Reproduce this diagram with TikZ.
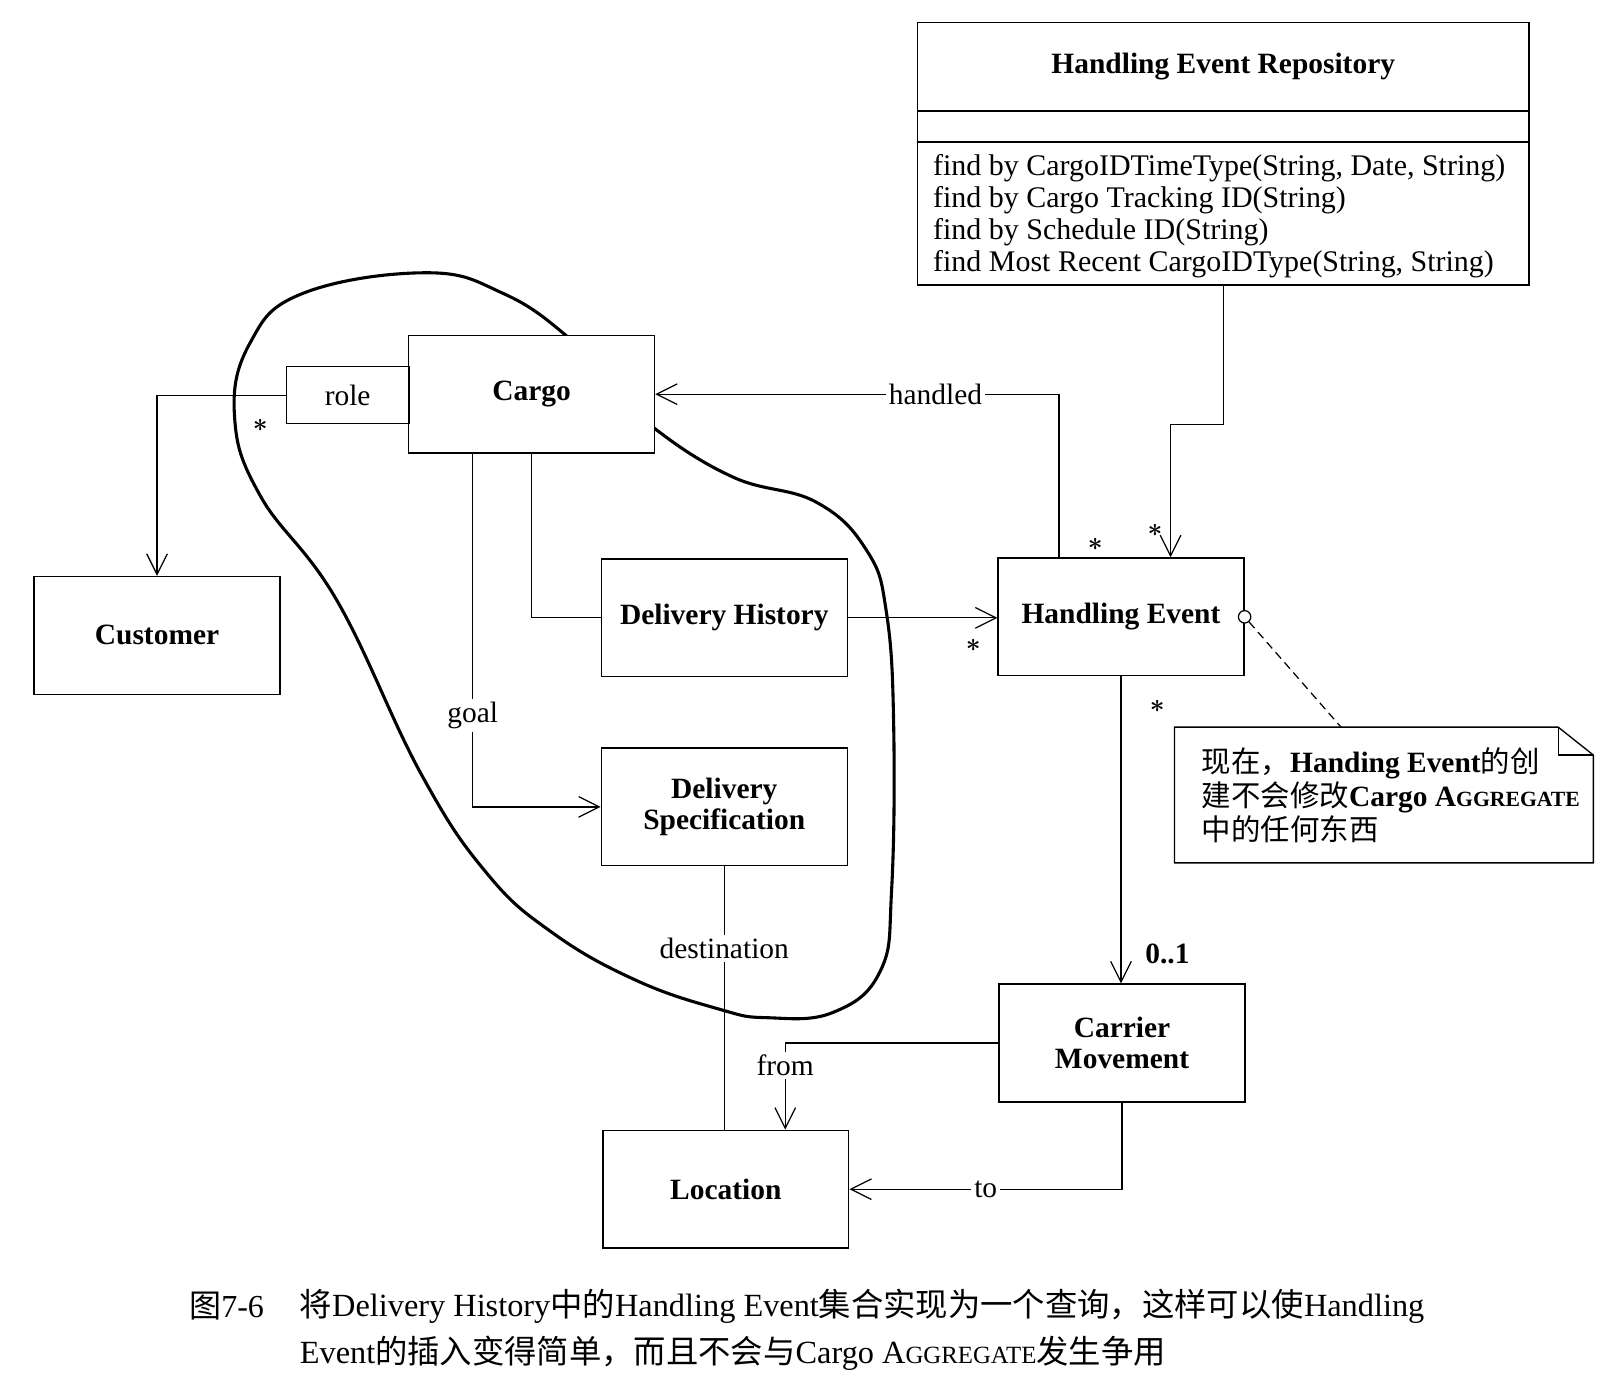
\documentclass[tikz,border=0pt]{standalone}
\usepackage{fontspec}
\setmainfont{Liberation Serif}
\newfontfamily\cjk{Noto Sans CJK SC}
\usetikzlibrary{positioning,arrows.meta}

\newcommand\aggsc[1]{A{\fontsize{#1}{#1}\selectfont GGREGATE}}

\begin{document}
\begin{tikzpicture}[x=1pt, y=-1pt,
  every node/.style={font=\fontsize{28.5}{31}\selectfont, inner sep=0pt},
  cls/.style={draw, line width=1.3pt, fill=white, minimum width=238pt, minimum height=114pt,
    font=\fontsize{28.5}{30}\selectfont\bfseries, align=center},
  lbl/.style={fill=white, inner sep=3pt},
  assoc/.style={line width=1.2pt},
  nav/.style={assoc, -{Straight Barb[length=20pt, width=20pt]}},
  mult/.style={font=\fontsize{32}{32}\selectfont\boldmath}]
  \useasboundingbox (0,0) rectangle (1568,1334);
  \fill[white] (0,0) rectangle (1568,1334);

  % aggregate boundary
  \draw[line width=3pt] plot[smooth cycle, tension=0.7] coordinates {
    (547,324) (487,284) (413,264) (293,284) (242,332) (227,403) (252,480)
    (326,581) (407,748) (471,845) (535,903) (616,949) (697,977) (742,985)
    (806,980) (852,940) (863,861) (865,703) (858,593) (839,533) (790,486)
    (710,462) (634,415) (590,370)};

  % classes
  \node[cls] (cargo) at (514.5,381.5) {Cargo};
  \node[draw, line width=1.3pt, fill=white, minimum width=119pt, minimum height=55pt] (role) at (336.5,382.5) {role};
  \node[cls] (customer) at (152,615) {Customer};
  \node[cls] (dh) at (701,598) {Delivery History};
  \node[cls] (ds) at (701,781) {Delivery\\Specification};
  \node[cls] (loc) at (702.5,1151) {Location};
  \node[cls] (he) at (1085,597) {Handling Event};
  \node[cls] (cm) at (1086,1009.5) {Carrier\\Movement};

  % repository
  \node[draw, line width=1.3pt, fill=white, minimum width=592pt, minimum height=254pt] (repo) at (1184,149) {};
  \node[font=\fontsize{28.5}{31}\selectfont\bfseries] (repotitle) at (1184,64) {Handling Event Repository};
  \draw[line width=1.3pt] ([yshift=-86pt]repo.north west) -- ([yshift=-86pt]repo.north east)
    ([yshift=-116pt]repo.north west) -- ([yshift=-116pt]repo.north east);
  \node[anchor=west, align=left, font=\fontsize{29}{31}\selectfont] (repoops) at (903,209.5)
    {find by CargoIDTimeType(String, Date, String)\\
    find by Cargo Tracking ID(String)\\find by Schedule ID(String)\\
    find Most Recent CargoIDType(String, String)};

  % associations
  \draw[nav] (role.west) -| (customer.north);
  \draw[assoc] (cargo.south) |- (dh.west);
  \draw[nav] ([xshift=-57pt]cargo.south) |- node[lbl, pos=0.37] (goal) {goal} (ds.west);
  \draw[nav] ([xshift=-60pt]he.north) |- node[lbl, pos=0.653] (handled) {handled} (cargo.east);
  \draw[nav] (dh.east) -- (dh.east -| he.west);
  \draw[nav] (repo.south) -- ++(0,134) -| ([xshift=48pt]he.north);
  \draw[nav] (he.south) -- (he.south |- cm.north);
  \draw[nav] (cm.west) -| node[lbl, pos=0.63] (from) {from} ([xshift=57.5pt]loc.north);
  \draw[nav] (cm.south) |- node[lbl, pos=0.75] (to) {to} (loc.east);
  \draw[assoc] (ds.south) -- node[lbl, pos=0.31] (dest) {destination} (ds.south |- loc.north);

  % multiplicities
  \foreach \x/\y [count=\i] in {252/412, 1060/527, 1118/513, 942/625, 1120/684}
    \node[mult] (star\i) at (\x,\y) {$\ast$};
  \node[font=\fontsize{28.5}{31}\selectfont\bfseries] (mult01) at (1130,923) {0..1};

  % note
  \node[draw, circle, line width=1.2pt, fill=white, minimum size=12pt] (hecirc) at (he.east) {};
  \node[minimum width=405pt, minimum height=131pt] (note) at (1339.5,769.5) {};
  \draw[line width=1.2pt, dash pattern=on 8pt off 5pt] (hecirc) -- ([xshift=-41.5pt]note.north);
  \draw[line width=1.3pt, fill=white] (note.south west) -- (note.north west) -- ([xshift=-34pt]note.north east)
    -- ([yshift=-27pt]note.north east) -- (note.south east) -- cycle;
  \draw[line width=1.3pt] ([xshift=-34pt]note.north east) |- ([yshift=-27pt]note.north east);
  \node[anchor=west, align=left, font=\fontsize{28.5}{33}\selectfont] (notetext) at (1163,770)
    {{\cjk 现在，}\textbf{Handing Event}{\cjk 的创}\\{\cjk 建不会修改}\textbf{Cargo \aggsc{21}}\\{\cjk 中的任何东西}};

  % caption
  \node[anchor=west, font=\fontsize{31}{46}\selectfont] (figno) at (183,1264) {{\cjk 图}7-6};
  \node[anchor=west, align=left, font=\fontsize{31.3}{46}\selectfont] (caption) at (290,1287)
    {{\cjk 将}Delivery History{\cjk 中的}Handling Event{\cjk 集合实现为一个查询，这样可以使}Handling\\
     Event{\cjk 的插入变得简单，而且不会与}Cargo \aggsc{24}{\cjk 发生争用}};
\end{tikzpicture}
\end{document}
